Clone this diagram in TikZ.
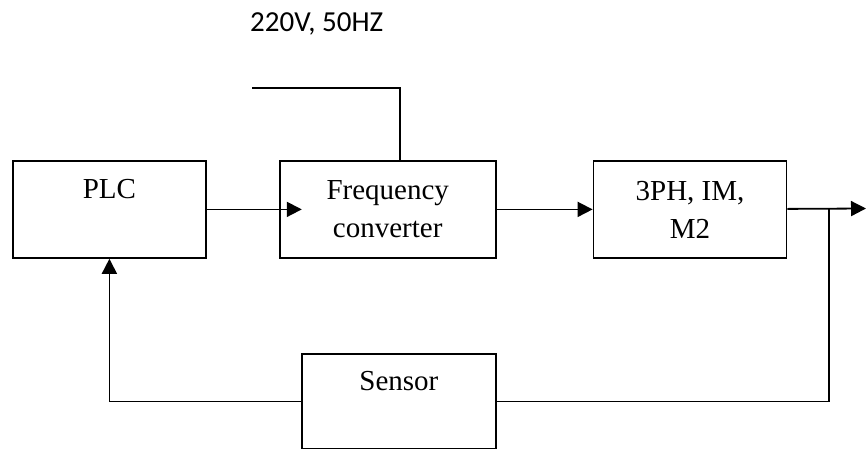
\documentclass[tikz,border=0pt]{standalone}
\usepackage{fontspec}
\setmainfont{Liberation Serif}
\newfontfamily\supplyfont{Carlito}
\usetikzlibrary{arrows.meta,positioning}
\tikzset{
  blk/.style={rectangle, draw, line width=1.8pt, inner sep=0pt, align=center,
              font=\fontsize{29}{38}\selectfont, minimum width=193pt, minimum height=97pt},
  toptxt/.style={text height=38pt, text depth=59pt},
  arr/.style={-{Triangle[length=15pt,width=15pt]}, line width=1.8pt},
  wire/.style={line width=1.8pt},
}

\begin{document}
\begin{tikzpicture}[x=1pt,y=-1pt,node distance=72pt]
  \useasboundingbox (0,0) rectangle (866,449);
  \node[blk,toptxt,anchor=north west](plc) at (12,160){PLC};
  \node[blk,right=of plc,minimum width=216pt](freq){Frequency\\converter};
  \node[blk,right=96pt of freq](motor){3PH, IM,\\M2};
  \node[blk,toptxt,text height=37pt,text depth=58pt,minimum width=194pt,minimum height=95pt,anchor=north west](sensor) at (301,353){Sensor};
  \node[font=\supplyfont\fontsize{29}{34}\selectfont,anchor=base west,inner sep=0pt](supply) at (250,32){220V, 50HZ};
  \coordinate (mains) at (252,88);
  \coordinate (out) at (866,208.5);
  \coordinate (tap) at (829,208.5);
  \draw[wire](mains) -| ([xshift=12pt]freq.north);
  \draw[arr](plc.east) -- ([xshift=23pt]freq.west);\draw[arr](freq) -- (motor);\draw[arr](motor) -- (out);
  \draw[wire](tap) |- (sensor.east);
  \draw[arr](sensor.west) -| (plc.south);
\end{tikzpicture}
\end{document}
